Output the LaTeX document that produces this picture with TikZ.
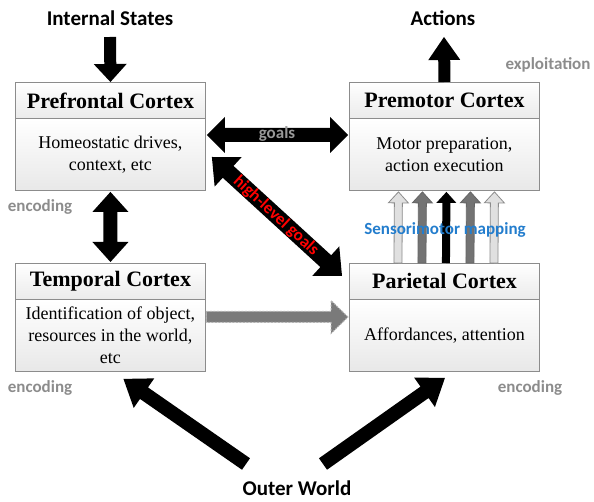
\documentclass[tikz,border=0pt]{standalone}
\usepackage{fontspec}
\setmainfont{Liberation Serif}
\newfontfamily\labfont{Carlito}
\usetikzlibrary{calc}
\definecolor{smblue}{RGB}{35,125,205}
\definecolor{labgray}{RGB}{140,140,140}
\newcommand\fatarrow[6]{%
  \coordinate (fah) at ($(#3)!#6!(#2)$);
  \path[#1] ($(#2)!#4!90:(#3)$) -- ($(fah)!#4!90:(#3)$) -- ($(fah)!#5!90:(#3)$) -- (#3)
    -- ($(fah)!#5!-90:(#3)$) -- ($(fah)!#4!-90:(#3)$) -- ($(#2)!#4!-90:(#3)$) -- cycle;}
\newcommand\fatdarrow[6]{%
  \coordinate (fda) at ($(#2)!#6!(#3)$);
  \coordinate (fdb) at ($(#3)!#6!(#2)$);
  \path[#1] (#2) -- ($(fda)!#5!90:(#3)$) -- ($(fda)!#4!90:(#3)$) -- ($(fdb)!#4!90:(#3)$)
    -- ($(fdb)!#5!90:(#3)$) -- (#3) -- ($(fdb)!#5!-90:(#3)$) -- ($(fdb)!#4!-90:(#3)$)
    -- ($(fda)!#4!-90:(#3)$) -- ($(fda)!#5!-90:(#3)$) -- cycle;}
\tikzset{
  boxhdr/.style={draw=black!45, line width=0.9pt, top color=white, bottom color=black!8,
    minimum width=190pt, minimum height=36pt, inner sep=0pt, anchor=north west,
    font=\fontsize{22}{24}\selectfont\bfseries},
  boxbody/.style={draw=black!45, line width=0.9pt, top color=white, bottom color=black!9,
    minimum width=190pt, minimum height=72pt, inner sep=0pt, anchor=north west, align=center,
    font=\fontsize{18}{22}\selectfont},
  biglab/.style={font=\labfont\fontsize{21}{24}\selectfont\bfseries, inner sep=0pt},
  graylab/.style={font=\labfont\fontsize{17}{20}\selectfont\bfseries, text=labgray, inner sep=0pt},
  blackarr/.style={fill=black},
  dasharr/.style={fill=black!52, draw=black!30, dashed, dash pattern=on 2pt off 1.5pt, line width=1pt},
  lightarr/.style={fill=black!12, draw=black!45, line width=0.8pt},
  midarr/.style={fill=black!55, draw=black!60, line width=0.8pt},
}
\begin{document}
\begin{tikzpicture}[x=1pt,y=-1pt]
\useasboundingbox (0,0) rectangle (594,502);
% boxes
\node[boxhdr] (pfh) at (15,82) {Prefrontal Cortex};
\node[boxbody] (pfb) at (15,118) {Homeostatic drives,\\context, etc};
\node[boxhdr] (pmh) at (349,82) {Premotor Cortex};
\node[boxbody] (pmb) at (349,118) {Motor preparation,\\action execution};
\node[boxhdr] (tch) at (15,263) {Temporal Cortex};
\node[boxbody] (tcb) at (15,299) {Identification of object,\\resources in the world,\\etc};
\node[boxhdr] (pph) at (349,263) {Parietal Cortex};
\node[boxbody] (ppb) at (349,299) {Affordances, attention};
% outer labels
\node[biglab] (is) at (110,18) {Internal States};
\node[biglab] (ac) at (443,18) {Actions};
\node[biglab] (ow) at (297,488) {Outer World};
\node[graylab] (expl) at (548,65) {exploitation};
\node[graylab] (enc1) at (40,207) {encoding};
\node[graylab] (enc2) at (40,388) {encoding};
\node[graylab] (enc3) at (530,388) {encoding};
% connector end points
\coordinate (isa) at ($(is.center)+(0,19)$);
\coordinate (aca) at ($(ac.center)+(1,19)$);
\coordinate (pmtop) at (pmh.north);
\coordinate (g1) at ($(pfb.north east)+(1,17)$);
\coordinate (g2) at ($(pmb.north west)+(-1,17)$);
\coordinate (v1) at ($(pfb.south)+(0,1)$);
\coordinate (v2) at ($(tch.north)+(0,-1)$);
\coordinate (h1) at ($(pfb.north east)+(6,39)$);
\coordinate (h2) at ($(pph.north west)+(-7,13)$);
\coordinate (d1) at ($(tcb.north east)+(0.5,18)$);
\coordinate (d2) at ($(ppb.north west)+(-1,18)$);
\coordinate (o1) at ($(ow.center)+(-51,-24)$);
\coordinate (o1t) at ($(tcb.south)+(13,7)$);
\coordinate (o2) at ($(ow.center)+(26,-24)$);
\coordinate (o2t) at ($(ppb.south)+(0.5,6)$);
% arrows
\fatarrow{blackarr}{isa}{pfh.north}{6pt}{16.5pt}{18pt}
\fatarrow{blackarr}{pmtop}{aca}{6pt}{16pt}{23pt}
\fatdarrow{blackarr}{g1}{g2}{7pt}{18pt}{18pt}
\fatdarrow{blackarr}{v1}{v2}{7pt}{18pt}{20pt}
\fatdarrow{blackarr}{h1}{h2}{8pt}{20pt}{22pt}
\fatarrow{dasharr}{d1}{d2}{5.5pt}{16.5pt}{17pt}
\fatarrow{blackarr}{o1}{o1t}{7pt}{18pt}{25pt}
\fatarrow{blackarr}{o2}{o2t}{7pt}{18pt}{25pt}
% sensorimotor arrows
\foreach \dx/\st [count=\i] in {-46.5/lightarr,-22.5/midarr,1.5/blackarr,25.5/midarr,49.5/lightarr}{
  \coordinate (s\i a) at ($(pph.north)+(\dx,0)$);
  \coordinate (s\i b) at ($(pmb.south)+(\dx+0.5,1)$);
  \fatarrow{\st}{s\i a}{s\i b}{4pt}{10pt}{11pt}
}
% arrow labels
\node[graylab, text=black!40] (gl) at (277,134) {goals};
\node[graylab, text=red, rotate=-42.5] (hl) at (276,216) {high-level goals};
\node[graylab, text=smblue] (sm) at (445,230) {Sensorimotor mapping};
\end{tikzpicture}
\end{document}
